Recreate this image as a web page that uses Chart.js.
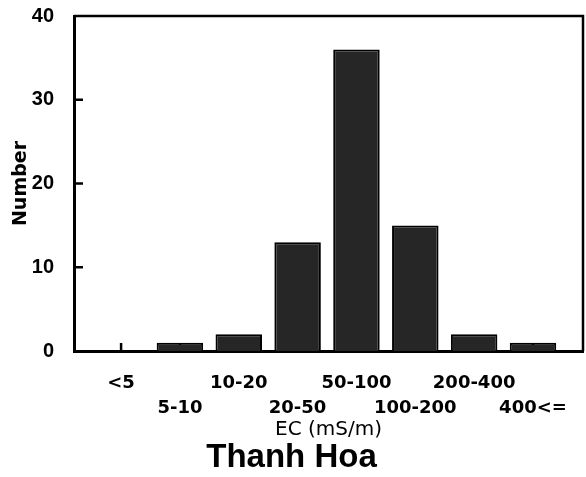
<!DOCTYPE html>
<html>
<head>
<meta charset="utf-8">
<script src="https://cdn.jsdelivr.net/npm/chart.js@4"></script>
<style>
  html, body { margin: 0; padding: 0; background: #fff; }
  canvas { display: block; }
</style>
</head>
<body>
<canvas id="ecChart" width="586" height="477"></canvas>
<script>
// EC classes (mS/m) and number of samples in each class
const categories = ['<5', '5-10', '10-20', '20-50', '50-100', '100-200', '200-400', '400<='];
const counts = [0, 1, 2, 13, 36, 15, 2, 1];
const yTickValues = [0, 10, 20, 30, 40];

const FONT = "'Liberation Sans', Arial, sans-serif";
const WIDE_FONT = "'DejaVu Sans', sans-serif";

// frame, inward tick marks
const framePlugin = {
  id: 'frame',
  beforeDatasetsDraw(chart) {
    const { ctx, chartArea, scales } = chart;
    ctx.save();
    ctx.strokeStyle = '#000';
    ctx.lineWidth = 2.5;
    categories.forEach((c, i) => {
      const x = scales.x.getPixelForValue(i);
      ctx.beginPath();
      ctx.moveTo(x, chartArea.bottom);
      ctx.lineTo(x, chartArea.bottom - 8);
      ctx.stroke();
    });
    ctx.restore();
  },
  afterDraw(chart) {
    const { ctx, chartArea, scales } = chart;
    ctx.save();
    ctx.strokeStyle = '#000';
    ctx.lineWidth = 2.5;
    ctx.beginPath();
    ctx.moveTo(chartArea.left, chartArea.top);
    ctx.lineTo(chartArea.right, chartArea.top);
    ctx.lineTo(chartArea.right, chartArea.bottom);
    ctx.stroke();
    yTickValues.forEach(v => {
      if (v === 0 || v === 40) return;
      const y = scales.y.getPixelForValue(v);
      ctx.beginPath();
      ctx.moveTo(chartArea.left, y);
      ctx.lineTo(chartArea.left + 9, y);
      ctx.stroke();
    });
    ctx.restore();
  }
};

new Chart(document.getElementById('ecChart'), {
  type: 'bar',
  data: {
    datasets: [{
      data: counts.map((v, i) => ({ x: i, y: v })),
      backgroundColor: '#262626',
      borderColor: '#000',
      borderWidth: 2,
      barPercentage: 0.79,
      categoryPercentage: 1.0
    }]
  },
  options: {
    responsive: false,
    animation: false,
    layout: { padding: { top: 16, right: 3, bottom: 3, left: 0 } },
    plugins: {
      legend: { display: false },
      tooltip: { enabled: false },
      title: {
        display: true,
        text: 'Thanh Hoa',
        position: 'bottom',
        color: '#000',
        font: { family: FONT, size: 33, weight: 'bold', lineHeight: 1 },
        padding: { top: 0, bottom: 0 }
      }
    },
    scales: {
      x: {
        type: 'linear',
        min: -0.8,
        max: 7.85,
        offset: false,
        grid: { display: false },
        border: { display: true, color: '#000', width: 3 },
        ticks: {
          stepSize: 1,
          includeBounds: false,
          autoSkip: false,
          maxRotation: 0,
          padding: 12,
          color: '#000',
          font: { family: WIDE_FONT, size: 18, weight: 'bold', lineHeight: 25 / 18 },
          callback: (v) => {
            const i = Math.round(v);
            if (Math.abs(v - i) > 1e-6 || i < 0 || i >= categories.length) return null;
            return i % 2 ? ['', categories[i]] : categories[i];
          }
        },
        title: {
          display: true,
          text: 'EC (mS/m)',
          color: '#000',
          font: { family: WIDE_FONT, size: 20, weight: 'normal', lineHeight: 1.1 },
          padding: { top: 0, bottom: 0 }
        },
        afterFit(scale) {
          scale.height = 90;
          scale.paddingLeft = 0;
          scale.paddingRight = 0;
        }
      },
      y: {
        min: 0,
        max: 40,
        grid: { display: false },
        border: { display: true, color: '#000', width: 3 },
        afterBuildTicks(scale) { scale.ticks = yTickValues.map(v => ({ value: v })); },
        ticks: {
          padding: 12,
          color: '#000',
          font: { family: FONT, size: 20, weight: 'bold' }
        },
        title: {
          display: true,
          text: 'Number',
          color: '#000',
          font: { family: WIDE_FONT, size: 19, weight: 'bold', lineHeight: 1.2 },
          padding: { top: 10, bottom: 0 }
        },
        afterFit(scale) {
          scale.width = 74;
          scale.paddingTop = 0;
          scale.paddingBottom = 0;
        }
      }
    }
  },
  plugins: [framePlugin]
});
</script>
</body>
</html>
